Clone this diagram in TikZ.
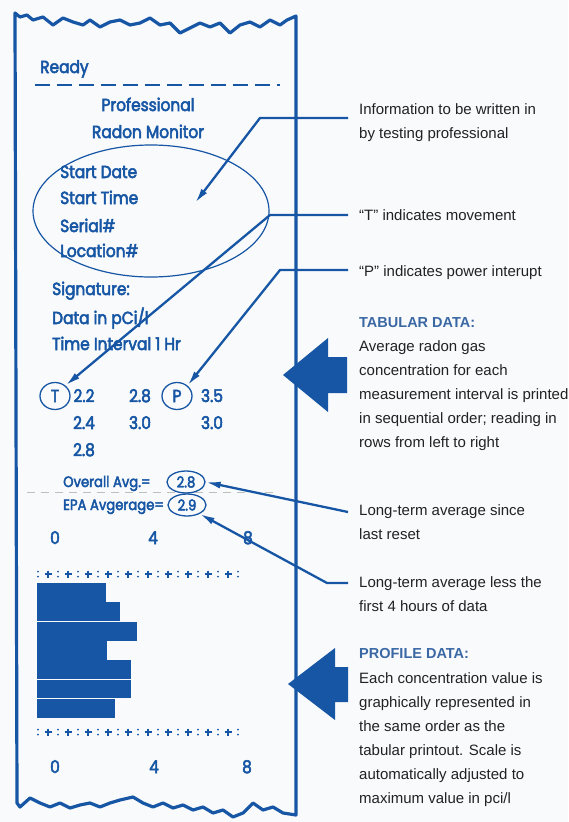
\documentclass[tikz,border=0pt]{standalone}
\usepackage{fontspec}
\setmainfont{Liberation Sans}
\newfontfamily\printfont[FakeStretch=0.88,FakeBold=3]{Poppins}
\usetikzlibrary{arrows.meta,shapes.geometric}

\definecolor{inkblue}{RGB}{22,86,164}
\definecolor{headblue}{RGB}{58,104,164}
\definecolor{notegray}{RGB}{34,34,34}
\definecolor{paper}{RGB}{249,250,252}

\tikzset{
  prn/.style={text=inkblue,inner sep=0pt,font=\printfont\fontsize{17.5}{17.5}\selectfont},
  prnsmall/.style={prn,font=\printfont\fontsize{15}{15}\selectfont},
  ring/.style={draw=inkblue,line width=1.3pt,ellipse,inner sep=0pt},
  note/.style={text=notegray,inner sep=0pt,align=left,anchor=base west,font=\fontsize{15}{24}\selectfont},
  notehead/.style={note,text=headblue,font=\bfseries\fontsize{14.5}{24}\selectfont},
  leader/.style={draw=inkblue,line width=2.3pt,line join=round,-{Latex[length=15pt,width=7pt]}},
  bigarrow/.style={fill=inkblue},
}

\begin{document}
\begin{tikzpicture}[x=1pt,y=-1pt]
\useasboundingbox[fill=paper] (0,0) rectangle (568,822);

% paper strip
\draw[inkblue,line width=3.2pt,line join=round]
  (17,803) -- (15,13) -- (20,17) -- (27,15) -- (33,20) -- (43,17) -- (53,25) -- (63,18)
  -- (73,22) -- (83,25) -- (90,20) -- (100,27) -- (110,22) -- (120,20) -- (130,25)
  -- (140,23) -- (150,18) -- (160,25) -- (170,23) -- (180,33) -- (190,28) -- (200,23)
  -- (210,27) -- (220,23) -- (230,33) -- (240,25) -- (250,22) -- (260,27) -- (270,20)
  -- (280,25) -- (287,20) -- (296,16) -- (296,815)
  -- (283,813) -- (273,807) -- (263,810) -- (253,803) -- (243,813) -- (233,817) -- (223,810)
  -- (213,813) -- (203,807) -- (193,810) -- (183,805) -- (173,808) -- (163,803) -- (153,807)
  -- (143,803) -- (133,797) -- (120,800) -- (110,803) -- (100,807) -- (90,803) -- (80,805)
  -- (70,808) -- (60,803) -- (50,807) -- (40,803) -- (30,798) -- (20,807) -- cycle;

\node[prn,anchor=base west] (ready) at (40,73) {Ready};
\draw[inkblue,line width=2pt,dash pattern=on 15pt off 7pt] (35,85) -- (280,85);

\node[prn,anchor=base] (title1) at (148,111) {Professional};
\node[prn,anchor=base] (title2) at (148,138) {Radon Monitor};

\node[draw=inkblue,line width=1.2pt,ellipse,minimum width=236pt,minimum height=132pt] (infoellipse) at (151,211) {};
\node[prn,anchor=base west] (startdate) at (60,178) {Start Date};
\node[prn,anchor=base west] (starttime) at (60,204) {Start Time};
\node[prn,anchor=base west] (serial) at (60,232) {Serial\#};
\node[prn,anchor=base west] (location) at (60,257) {Location\#};

\node[prn,anchor=base west] (signature) at (52,295) {Signature:};
\node[prn,anchor=base west] (units) at (52,324) {Data in pCi/l};
\node[prn,anchor=base west] (interval) at (52,350) {Time Interval 1 Hr};

% tabular readings
\node[prn,ring,minimum width=30pt,minimum height=27pt] (tmark) at (55,396) {T};
\node[prn,ring,minimum width=30pt,minimum height=27pt] (pmark) at (177,396) {P};
\node[prn,anchor=base] (r1a) at (84,402) {2.2};
\node[prn,anchor=base] (r1b) at (140,402) {2.8};
\node[prn,anchor=base] (r1c) at (212,402) {3.5};
\node[prn,anchor=base] (r2a) at (84,429) {2.4};
\node[prn,anchor=base] (r2b) at (140,429) {3.0};
\node[prn,anchor=base] (r2c) at (212,429) {3.0};
\node[prn,anchor=base] (r3a) at (84,456) {2.8};

\draw[black!25,line width=1pt,dash pattern=on 8pt off 6pt] (27,492) -- (273,492);
\node[prnsmall,anchor=base west] (overalltxt) at (63,487) {Overall Avg.=};
\node[prnsmall,ring,minimum width=38pt,minimum height=22pt] (overall) at (186,482) {2.8};
\node[prnsmall,anchor=base west] (epatxt) at (63,510) {EPA Avgerage=};
\node[prnsmall,ring,minimum width=38pt,minimum height=22pt] (epa) at (187,505) {2.9};

\node[prn,anchor=base] (top0) at (55,544) {0};
\node[prn,anchor=base] (top4) at (153,544) {4};
\node[prn,anchor=base] (top8) at (248,544) {8};

% profile bars
\foreach \r in {574,732} {
  \foreach \k in {0,...,10}
    \fill[inkblue] (38+20*\k,\r-2.5) circle (1pt) (38+20*\k,\r+2.5) circle (1pt);
  \foreach \k in {0,...,9}
    \draw[inkblue,line width=1.5pt] (44.5+20*\k,\r) -- (51.5+20*\k,\r) (48+20*\k,\r-3.5) -- (48+20*\k,\r+3.5);
}
\foreach \w [count=\i from 0] in {69,83,100,70,94,94,78}
  \fill[inkblue] (37,{583+19.3*\i}) rectangle ++(\w,18.9);

\node[prn,anchor=base] (bot0) at (55,773) {0};
\node[prn,anchor=base] (bot4) at (154,773) {4};
\node[prn,anchor=base] (bot8) at (247,773) {8};

% notes (base = last line)
\node[note] (infonote) at (359,138) {Information to be written in\\by testing professional};
\node[note] (tnote) at (359,220) {“T” indicates movement};
\node[note] (pnote) at (359,276) {“P” indicates power interupt};
\node[notehead] (tabhead) at (359,327) {TABULAR DATA:};
\node[note] (tabnote) at (359,447) {Average radon gas\\concentration for each\\measurement interval is printed\\in sequential order; reading in\\rows from left to right};
\node[note] (sincenote) at (359,539) {Long-term average since\\last reset};
\node[note] (lessnote) at (359,611) {Long-term average less the\\first 4 hours of data};
\node[notehead] (profhead) at (359,658) {PROFILE DATA:};
\node[note] (profnote) at (359,803) {Each concentration value is\\graphically represented in\\the same order as the\\tabular printout. Scale is\\automatically adjusted to\\maximum value in pci/l};

% leaders
\coordinate (infoend) at (348,118);  \coordinate (infobend) at (260,118);
\coordinate (infotip) at (195,203);
\coordinate (tend) at (348,215);     \coordinate (tbend) at (270,215);
\coordinate (pend) at (348,270);     \coordinate (pbend) at (280,270);
\coordinate (sinceend) at (348,512);
\coordinate (lessend) at (348,583);  \coordinate (lessbend) at (327,583);

\draw[leader] (infoend) -- (infobend) -- (infotip);
\draw[leader] (tend) -- (tbend) -- (tmark.45);
\draw[leader] (pend) -- (pbend) -- (pmark.45);
\draw[leader] (sinceend) -- (overall.east);
\draw[leader] (lessend) -- (lessbend) -- (epa.-35);

% block arrows
\fill[bigarrow] (283,375) -- (328,338) -- (328,357) -- (347,357) -- (347,393) -- (328,393) -- (328,412) -- cycle;
\fill[bigarrow] (288,684) -- (335,648) -- (335,667) -- (348,667) -- (348,702) -- (335,702) -- (335,720) -- cycle;
\end{tikzpicture}
\end{document}
